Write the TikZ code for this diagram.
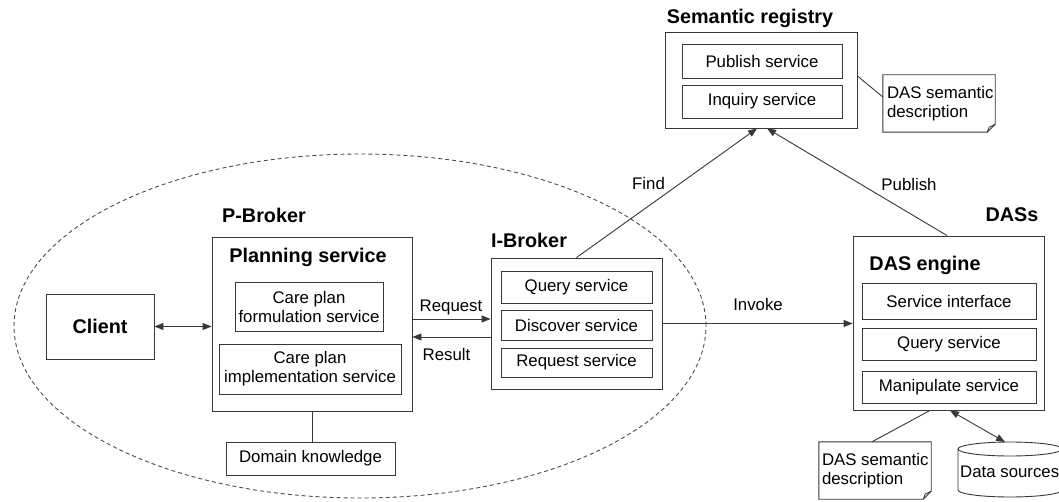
\documentclass[tikz,border=0pt]{standalone}
\usepackage{fontspec}
\setmainfont{Liberation Sans}
\usetikzlibrary{arrows.meta}
\tikzset{
  ln/.style={draw=black!78, line width=0.9pt},
  box/.style={ln, rectangle, inner sep=0pt, align=center, font=\fontsize{16.8pt}{19pt}\selectfont},
  lbl/.style={inner sep=0pt, font=\fontsize{16.8pt}{19pt}\selectfont},
  ttl/.style={inner sep=0pt, font=\fontsize{19.8pt}{22pt}\selectfont\bfseries},
  ghost/.style={rectangle, inner sep=0pt},
  arr/.style={ln, -{Triangle[length=9pt,width=7pt]}},
  darr/.style={ln, {Triangle[length=9pt,width=7pt]}-{Triangle[length=9pt,width=7pt]}},
}
\begin{document}
\begin{tikzpicture}[x=1pt,y=-1pt]
\useasboundingbox[fill=white] (0,0) rectangle (1059,502);

% dashed ellipse
\draw[draw=black!70, line width=0.9pt, dash pattern=on 4pt off 3pt] (360,326) ellipse [x radius=346pt, y radius=172pt];

% Client
\node[box, minimum width=108pt, minimum height=65pt] (client) at (100,326.5) {\fontsize{19.8pt}{22pt}\selectfont\bfseries Client};

% P-Broker
\node[ttl] (pbl) at (264,215) {P-Broker};
\node[box, minimum width=200pt, minimum height=174pt] (plan) at (312,324) {};
\node[ttl] (plt) at (308,257) {Planning service};
\node[box, minimum width=148pt, minimum height=49pt] (form) at (309,306.5) {Care plan\\formulation service};
\node[box, minimum width=182pt, minimum height=50pt] (impl) at (310,369) {Care plan\\implementation service};
\node[box, minimum width=169pt, minimum height=33pt] (dom) at (310.5,458.5) {Domain knowledge};

% I-Broker
\node[ttl] (ibl) at (529,240) {I-Broker};
\node[box, minimum width=171pt, minimum height=131pt] (ib) at (576.5,323.5) {};
\node[box, minimum width=151pt, minimum height=32pt] (iq) at (576.5,287) {Query service};
\node[box, minimum width=151pt, minimum height=30pt] (id) at (576.5,325) {Discover service};
\node[box, minimum width=151pt, minimum height=29pt] (ir) at (576.5,362.5) {Request service};

% Semantic registry
\node[ttl] (srl) at (750,18) {Semantic registry};
\node[box, minimum width=192pt, minimum height=96pt] (sr) at (761,80) {};
\node[box, minimum width=160pt, minimum height=34pt] (sp) at (762,61) {Publish service};
\node[box, minimum width=160pt, minimum height=33pt] (si) at (762,101.5) {Inquiry service};

% top note
\node[ghost, minimum width=112pt, minimum height=57pt] (n1) at (939,103.5) {};
\draw[ln, fill=white] (n1.north west) -- (n1.north east) -- ([yshift=8pt]n1.south east) -- ([xshift=-8pt]n1.south east) -- (n1.south west) -- cycle;
\draw[ln] ([xshift=-8pt]n1.south east) -- ([xshift=-6pt,yshift=5pt]n1.south east) -- ([yshift=8pt]n1.south east);
\node[lbl, anchor=west, align=left] (n1t) at ([xshift=4pt]n1.west) {DAS semantic\\description};

% DASs
\node[ttl] (dasl) at (1012,215) {DASs};
\node[box, minimum width=191pt, minimum height=174pt] (das) at (948.5,323) {};
\node[ttl] (dast) at (925,265) {DAS engine};
\node[box, minimum width=174pt, minimum height=36pt] (dsi) at (949,301) {Service interface};
\node[box, minimum width=174pt, minimum height=32pt] (dq) at (949,344) {Query service};
\node[box, minimum width=174pt, minimum height=32pt] (dm) at (949,387) {Manipulate service};

% bottom note
\node[ghost, minimum width=112pt, minimum height=57pt] (n2) at (875,470.5) {};
\draw[ln, fill=white] (n2.north west) -- (n2.north east) -- ([yshift=8pt]n2.south east) -- ([xshift=-8pt]n2.south east) -- (n2.south west) -- cycle;
\draw[ln] ([xshift=-8pt]n2.south east) -- ([xshift=-6pt,yshift=5pt]n2.south east) -- ([yshift=8pt]n2.south east);
\node[lbl, anchor=west, align=left] (n2t) at ([xshift=3pt]n2.west) {DAS semantic\\description};

% data sources cylinder
\node[ghost, minimum width=104pt, minimum height=55pt] (cyl) at (1010,469.5) {};
\draw[ln] (958,449) -- (958,490) arc[start angle=180, end angle=360, x radius=52pt, y radius=7pt] -- (1062,449);
\draw[ln] (1010,449) ellipse [x radius=52pt, y radius=7pt];
\coordinate (cyltop) at (1005,442);
\node[lbl, anchor=west] (cylt) at (960,472) {Data sources};

% connectors
\draw[darr] (client.east) -- (client.east -| plan.west);
\draw[arr] ([yshift=5pt]plan.east) -- ([yshift=5pt]plan.east -| ib.west);
\draw[arr] ([yshift=-13pt]plan.east -| ib.west) -- ([yshift=-13pt]plan.east);
\node[lbl] (req) at (451,307) {Request};
\node[lbl] (res) at (446.5,354) {Result};
\draw[ln] (plan.south) -- (plan.south |- dom.north);
\draw[arr] (ib.east) -- (ib.east -| das.west);
\node[lbl] (inv) at (758,304) {Invoke};
\draw[arr] (ib.north) -- ([xshift=-4pt]sr.south);
\node[lbl] (find) at (648.5,183) {Find};
\draw[arr] ([xshift=-1.5pt]das.north) -- ([xshift=6pt]sr.south);
\node[lbl] (pub) at (909,184) {Publish};
\draw[ln] ([yshift=4pt]sr.east) -- ([yshift=6.5pt]n1.west);
\draw[ln] ([xshift=-18.5pt]das.south) -- ([xshift=-3pt]n2.north);
\draw[darr] ([xshift=1.5pt]das.south) -- (cyltop);
\end{tikzpicture}
\end{document}
